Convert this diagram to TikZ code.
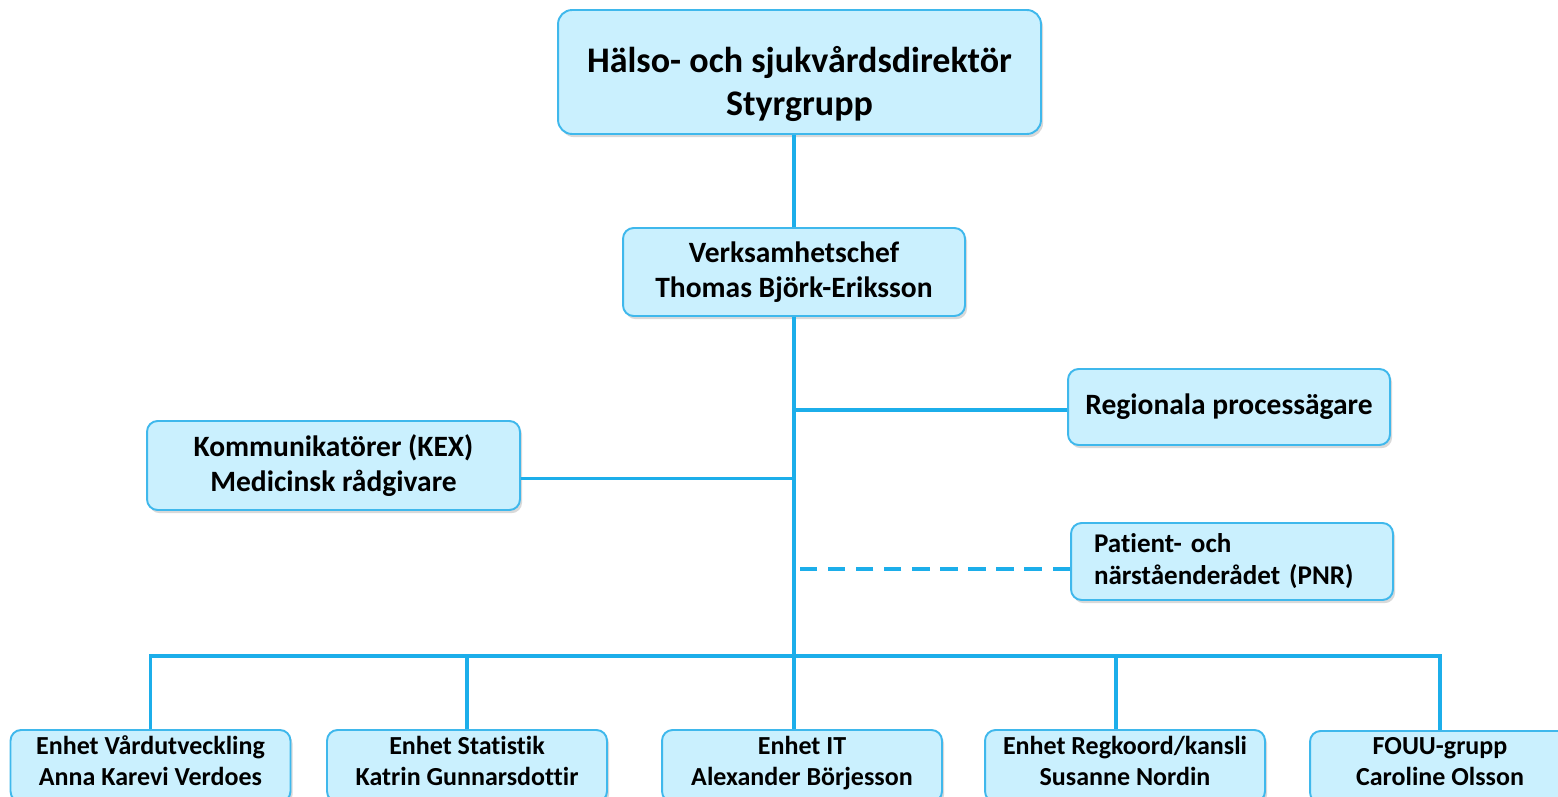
\documentclass[tikz,border=0pt]{standalone}
\usepackage{fontspec}
\setmainfont{Carlito}[Ligatures={NoCommon}]
\usetikzlibrary{shadows,calc}
\definecolor{boxfill}{HTML}{CAF0FE}
\definecolor{boxline}{HTML}{3FB8EC}
\definecolor{linkblue}{HTML}{1CAEEA}
\tikzset{
	orgbox/.style={rectangle,rounded corners=6pt,draw=boxline,line width=1.1pt,fill=boxfill,align=center,inner sep=0pt,
		drop shadow={shadow xshift=1.2pt,shadow yshift=-1.8pt,opacity=0.3}},
	bigtext/.style={font=\bfseries\fontsize{20.5}{24.5}\selectfont},
	midtext/.style={font=\bfseries\fontsize{16.8}{19.9}\selectfont},
	smalltext/.style={font=\bfseries\fontsize{14.8}{17.6}\selectfont},
	unitbox/.style={orgbox,smalltext,minimum width=5.6cm,minimum height=1.44cm,execute at end node={\rule[-6.2pt]{0pt}{1pt}}},
	link/.style={linkblue,line width=2.2pt},
}
\begin{document}
\begin{tikzpicture}[x=0.02cm,y=-0.02cm]
		\useasboundingbox (0,0) rectangle (1558,797);
		\clip (0,0) rectangle (1558,797);
		\node[orgbox,bigtext,rounded corners=8pt,minimum width=9.66cm,minimum height=2.48cm](dir) at (799.5,72){\rule{0pt}{29pt}Hälso- och sjukvårdsdirektör\\Styrgrupp};
		\node[orgbox,midtext,minimum width=6.84cm,minimum height=1.76cm](chef) at (794,272){Verksamhetschef\\Thomas Björk-Eriksson};
		\node[orgbox,midtext,minimum width=6.44cm,minimum height=1.52cm](reg) at (1229,407){Regionala processägare};
		\node[orgbox,midtext,minimum width=7.46cm,minimum height=1.78cm](kom) at (333.5,465.5){Kommunikatörer (KEX)\\Medicinsk rådgivare};
		\node[orgbox,font=\bfseries\fontsize{15.4}{18.2}\selectfont,align=left,text width=5.52cm,minimum width=6.44cm,minimum height=1.54cm](pnr) at (1232,561.5){Patient- och\\närståenderådet (PNR)};
		\node[unitbox](vard) at (150.5,766){Enhet Vårdutveckling\\Anna Karevi Verdoes};
		\node[unitbox](stat) at (467,766){Enhet Statistik\\Katrin Gunnarsdottir};
		\node[unitbox](it) at (802,766){Enhet IT\\Alexander Börjesson};
		\node[unitbox](regk) at (1125,766){Enhet Regkoord/kansli\\Susanne Nordin};
		\node[unitbox,minimum width=5.2cm](fouu) at (1440,767){FOUU-grupp\\Caroline Olsson};
		\coordinate(bus) at (794,656);
		\coordinate(regin) at ($(reg.west)+(0,3)$);
		\coordinate(komin) at ($(kom.east)+(0,13)$);
		\coordinate(pnrin) at ($(pnr.west)+(0,7.5)$);
		\coordinate(regkin) at ($(regk.north)+(-9,0)$);
		\draw[link](chef.north)--(chef.north|-dir.south);
		\draw[link](chef.south)--(chef.south|-it.north);
		\draw[link](regin)--(regin-|chef.south);
		\draw[link](komin)--(komin-|chef.south);
		\draw[link,dash pattern=on 10pt off 6pt](pnrin)--(pnrin-|chef.south);
		\draw[link](vard.north)|-(bus)-|(fouu.north);
		\draw[link](stat.north)--(stat.north|-bus);
		\draw[link](regkin)--(regkin|-bus);
	\end{tikzpicture}
\end{document}
